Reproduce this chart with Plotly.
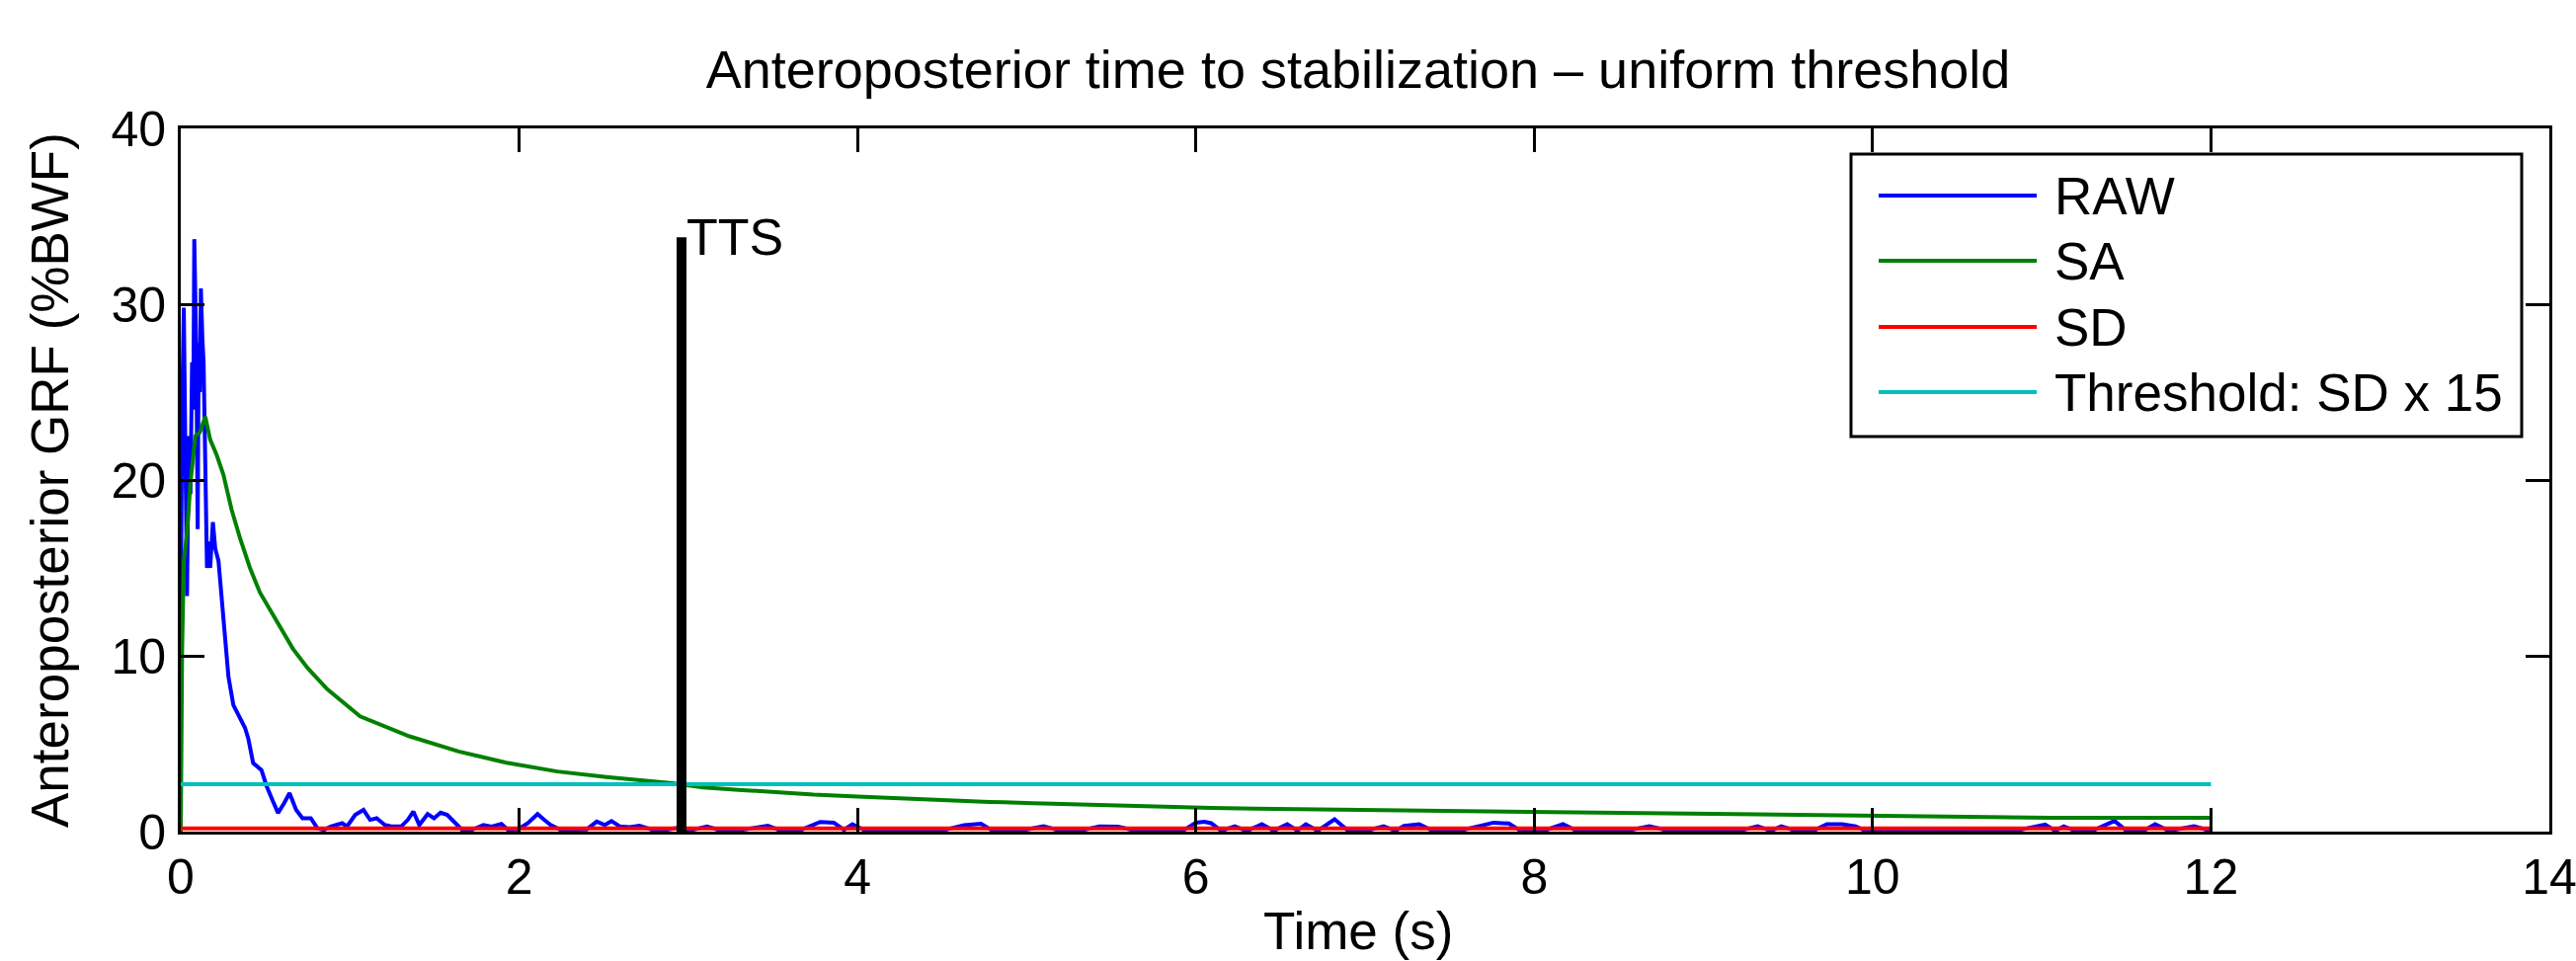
import plotly.graph_objects as go

# ---------------- data ----------------
raw_t = [0.0, 0.008, 0.018, 0.028, 0.037, 0.047, 0.057, 0.067, 0.074, 0.080, 0.086, 0.092,
         0.100, 0.106, 0.113, 0.119, 0.128, 0.135, 0.145, 0.155, 0.165, 0.174, 0.190, 0.204,
         0.223, 0.243, 0.262, 0.282, 0.311, 0.350, 0.380, 0.399, 0.428, 0.477, 0.507, 0.546,
         0.575, 0.610, 0.643, 0.682, 0.720, 0.769, 0.808, 0.847, 0.886, 0.954, 0.983, 1.031,
         1.080, 1.119, 1.158, 1.206, 1.245, 1.303, 1.342, 1.375, 1.410, 1.459, 1.497, 1.536,
         1.575, 1.624, 1.662, 1.720, 1.789, 1.837, 1.895, 1.934, 1.993, 2.051, 2.109, 2.148,
         2.187, 2.245, 2.323, 2.400, 2.459, 2.507, 2.546, 2.595, 2.653, 2.711, 2.789, 2.866,
         2.925, 3.000, 3.110, 3.200, 3.300, 3.470, 3.550, 3.650, 3.780, 3.860, 3.920, 3.970,
         4.050, 4.200, 4.350, 4.500, 4.630, 4.730, 4.800, 4.950, 5.100, 5.200, 5.300, 5.430,
         5.540, 5.650, 5.800, 5.920, 6.000, 6.050, 6.090, 6.150, 6.230, 6.300, 6.390, 6.460,
         6.540, 6.600, 6.650, 6.720, 6.820, 6.900, 7.000, 7.110, 7.180, 7.230, 7.320, 7.400,
         7.550, 7.690, 7.760, 7.850, 7.920, 8.050, 8.170, 8.250, 8.400, 8.550, 8.680, 8.800,
         8.950, 9.100, 9.200, 9.320, 9.400, 9.460, 9.550, 9.650, 9.730, 9.820, 9.900, 9.960,
         10.100, 10.250, 10.400, 10.550, 10.700, 10.850, 11.020, 11.080, 11.130, 11.200,
         11.300, 11.430, 11.500, 11.600, 11.670, 11.750, 11.900, 12.000]
raw_v = [12.0, 24.0, 29.8, 22.0, 13.4, 22.5, 19.2, 26.7, 24.0, 33.7, 30.0, 27.3,
         17.2, 27.8, 25.0, 30.9, 28.0, 26.7, 20.9, 15.0, 16.5, 15.0, 17.6, 16.1,
         15.4, 13.2, 11.0, 8.8, 7.2, 6.4, 5.9, 5.3, 3.9, 3.5, 2.6, 1.7,
         1.06, 1.6, 2.19, 1.24, 0.76, 0.76, 0.19, 0.10, 0.29, 0.48, 0.30, 0.95,
         1.24, 0.67, 0.76, 0.38, 0.30, 0.29, 0.67, 1.14, 0.38, 1.00, 0.76, 1.08,
         0.95, 0.48, 0.10, 0.10, 0.38, 0.29, 0.44, 0.10, 0.13, 0.48, 1.00, 0.67,
         0.38, 0.10, 0.10, 0.13, 0.57, 0.38, 0.60, 0.30, 0.25, 0.33, 0.10, 0.10,
         0.19, 0.05, 0.29, 0.04, 0.08, 0.33, 0.05, 0.03, 0.55, 0.51, 0.10, 0.42,
         0.04, 0.07, 0.02, 0.06, 0.37, 0.45, 0.05, 0.03, 0.30, 0.05, 0.02, 0.30,
         0.28, 0.04, 0.06, 0.03, 0.51, 0.56, 0.48, 0.05, 0.30, 0.04, 0.42, 0.05,
         0.42, 0.06, 0.42, 0.05, 0.70, 0.05, 0.03, 0.30, 0.05, 0.33, 0.42, 0.05,
         0.03, 0.33, 0.51, 0.46, 0.05, 0.03, 0.42, 0.05, 0.02, 0.06, 0.30, 0.04,
         0.03, 0.06, 0.02, 0.30, 0.05, 0.30, 0.04, 0.05, 0.42, 0.42, 0.30, 0.04,
         0.03, 0.06, 0.02, 0.05, 0.03, 0.06, 0.40, 0.05, 0.30, 0.04,
         0.05, 0.61, 0.05, 0.04, 0.42, 0.05, 0.30, 0.04]

sa_t = [0.0, 0.004, 0.008, 0.018, 0.037, 0.057, 0.076, 0.086, 0.112, 0.145, 0.174, 0.213,
        0.252, 0.301, 0.350, 0.409, 0.468, 0.546, 0.624, 0.663, 0.750, 0.866, 1.060, 1.352,
        1.643, 1.934, 2.226, 2.517, 2.905, 3.087, 3.296, 3.530, 3.740, 4.000, 4.260, 4.520,
        4.780, 5.040, 5.300, 5.560, 5.830, 6.090, 6.350, 6.730, 7.230, 7.780, 8.440, 9.140,
        10.000, 11.050, 12.000]
sa_v = [0.0, 5.0, 10.3, 15.4, 17.0, 19.8, 21.8, 22.5, 22.7, 23.6, 22.3, 21.4,
        20.3, 18.3, 16.7, 15.0, 13.6, 12.3, 11.0, 10.4, 9.3, 8.1, 6.56, 5.42,
        4.56, 3.9, 3.42, 3.1, 2.75, 2.51, 2.38, 2.23, 2.1, 2.0, 1.88, 1.78,
        1.69, 1.62, 1.54, 1.48, 1.41, 1.35, 1.30, 1.26, 1.17, 1.11, 1.04, 0.96,
        0.89, 0.79, 0.78]

sd_value = 0.18
threshold_factor = 15
span_t = [0.0, 12.0]
tts_time = 2.96
tts_peak = 33.8

series_names = ["RAW", "SA", "SD", "Threshold: SD x 15"]
series_colors = ["#0000FF", "#008000", "#FF0000", "#00BFBF"]

x_ticks = [0, 2, 4, 6, 8, 10, 12, 14]
y_ticks = [0, 10, 20, 30, 40]

title_text = "Anteroposterior time to stabilization \u2013 uniform threshold"
x_title = "Time (s)"
y_title = "Anteroposterior GRF (%BWF)"

# ---------------- figure ----------------
FONT = "Liberation Sans, Arial, Helvetica, sans-serif"
LW = 4

fig = go.Figure()
fig.add_trace(go.Scatter(x=raw_t, y=raw_v, mode="lines", name=series_names[0],
                         line=dict(color=series_colors[0], width=LW)))
fig.add_trace(go.Scatter(x=sa_t, y=sa_v, mode="lines", name=series_names[1],
                         line=dict(color=series_colors[1], width=LW)))
fig.add_trace(go.Scatter(x=span_t, y=[sd_value] * len(span_t), mode="lines", name=series_names[2],
                         line=dict(color=series_colors[2], width=LW)))
fig.add_trace(go.Scatter(x=span_t, y=[sd_value * threshold_factor] * len(span_t), mode="lines",
                         name=series_names[3], line=dict(color=series_colors[3], width=LW)))
fig.add_trace(go.Scatter(x=[tts_time, tts_time], y=[0, tts_peak], mode="lines", name="TTS",
                         line=dict(color="black", width=10)))

W, H = 2608, 973
L, R, T, B = 183, 27, 130, 131
pw, ph = W - L - R, H - T - B

def px(xp):
    return (xp - L) / pw

def py(yp):
    return (H - B - yp) / ph

axis_common = dict(showline=True, linecolor="black", linewidth=3, mirror="ticks",
                   ticks="inside", ticklen=24, tickwidth=2.5, tickcolor="black",
                   showgrid=False, zeroline=False, ticklabeloverflow="allow",
                   tickfont=dict(family=FONT, size=50, color="black"))

fig.update_layout(
    width=W, height=H,
    margin=dict(l=L, r=R, t=T, b=B, autoexpand=False),
    paper_bgcolor="white", plot_bgcolor="white",
    showlegend=False,
    font=dict(family=FONT, color="black"),
    title=dict(text=title_text, x=px(1375), xref="paper", xanchor="center",
               y=1 - 70 / H, yref="container", yanchor="middle",
               font=dict(family=FONT, size=54, color="black")),
    xaxis=dict(range=[0, 14], tickvals=x_ticks, ticklabelstandoff=0, **axis_common),
    yaxis=dict(range=[0, 40], tickvals=y_ticks, ticklabelstandoff=2, **axis_common),
)

annotations = [
    dict(text=x_title, x=px(1375), y=py(942), xref="paper", yref="paper", xanchor="center",
         yanchor="middle", showarrow=False, font=dict(family=FONT, size=53, color="black")),
    dict(text=y_title, x=px(50), y=0.5, xref="paper", yref="paper", xanchor="center",
         yanchor="middle", textangle=-90, showarrow=False,
         font=dict(family=FONT, size=53, color="black")),
    dict(text="TTS", x=tts_time, y=tts_peak, xref="x", yref="y", xanchor="left",
         yanchor="middle", xshift=3, showarrow=False,
         font=dict(family=FONT, size=52, color="black")),
]

shapes = []
# custom MATLAB-style legend box
shapes.append(dict(type="rect", xref="paper", yref="paper", x0=px(1874), x1=px(2553),
                   y0=py(442), y1=py(156), line=dict(color="black", width=3),
                   fillcolor="white", layer="above"))
entry_y = [198, 264, 331, 397]
for name, color, yy in zip(series_names, series_colors, entry_y):
    shapes.append(dict(type="line", xref="paper", yref="paper", x0=px(1902), x1=px(2062),
                       y0=py(yy), y1=py(yy), line=dict(color=color, width=LW), layer="above"))
    annotations.append(dict(text=name, x=px(2078), y=py(yy), xref="paper", yref="paper",
                            xanchor="left", yanchor="middle", showarrow=False,
                            font=dict(family=FONT, size=53, color="black")))

fig.update_layout(annotations=annotations, shapes=shapes)
fig.write_html("out.html", config={"displayModeBar": False},
               post_script="document.body.style.margin='0';")
